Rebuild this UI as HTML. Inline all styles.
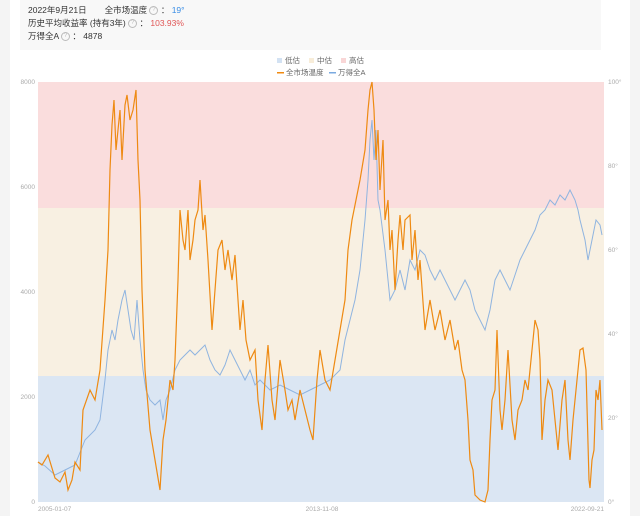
<!DOCTYPE html>
<html><head><meta charset="utf-8"><style>
body{margin:0;width:640px;height:516px;background:#f4f4f4;font-family:"Liberation Sans","Noto Sans CJK SC",sans-serif;overflow:hidden}
#p{position:absolute;left:10px;top:0;width:620px;height:516px;background:#fff}
#c{position:absolute;left:20px;top:0;width:581px;height:50px;background:#f8f8f8;font-size:8.5px;color:#333}
.r{position:absolute;left:8px}
.q{display:inline-block;width:7px;height:7px;border:1px solid #bbb;border-radius:50%;font-size:6px;line-height:7px;text-align:center;color:#bbb;vertical-align:middle}
</style></head><body>
<div id="p"></div>
<div id="c">
<div class="r" style="top:4px">2022年9月21日<span style="margin-left:18px">全市场温度 <span class="q">?</span> ： <span style="color:#3a8ee6">19°</span></span></div>
<div class="r" style="top:17px">历史平均收益率 (持有3年) <span class="q">?</span> ： <span style="color:#e05555">103.93%</span></div>
<div class="r" style="top:30px">万得全A <span class="q">?</span> ： 4878</div>
</div>
<svg style="position:absolute;left:0;top:0" width="640" height="516" font-family="Liberation Sans,Noto Sans CJK SC,sans-serif">
<rect x="38" y="82" width="566" height="126" fill="#fadddd"/>
<rect x="38" y="208" width="566" height="168" fill="#f8f0e2"/>
<rect x="38" y="376" width="566" height="126" fill="#dbe6f3"/>
<g font-size="6.5" fill="#aaa">
<text x="35" y="84" text-anchor="end">8000</text><text x="35" y="189" text-anchor="end">6000</text><text x="35" y="294" text-anchor="end">4000</text><text x="35" y="399" text-anchor="end">2000</text><text x="35" y="504" text-anchor="end">0</text>
<text x="608" y="84">100°</text><text x="608" y="168">80°</text><text x="608" y="252">60°</text><text x="608" y="336">40°</text><text x="608" y="420">20°</text><text x="608" y="504">0°</text>
<text x="38" y="511">2005-01-07</text><text x="322" y="511" text-anchor="middle">2013-11-08</text><text x="604" y="511" text-anchor="end">2022-09-21</text>
</g>
<g font-size="7.5" fill="#666">
<rect x="277" y="58" width="5" height="5" fill="#d3e2f3"/><text x="285" y="63">低估</text>
<rect x="309" y="58" width="5" height="5" fill="#f8edd9"/><text x="317" y="63">中估</text>
<rect x="341" y="58" width="5" height="5" fill="#f9d6d6"/><text x="349" y="63">高估</text>
<rect x="277" y="72" width="7" height="1.5" fill="#f08a10"/><text x="286" y="75">全市场温度</text>
<rect x="329" y="72" width="7" height="1.5" fill="#7aaae0"/><text x="338" y="75">万得全A</text>
</g>
<polyline fill="none" stroke="#8fb4e0" stroke-width="1" points="38,462 45,466 55,475 65,470 75,465 85,440 95,430 100,420 105,380 108,350 112,330 115,340 118,320 122,300 125,290 128,310 131,330 134,340 137,300 140,340 143,370 146,390 150,400 155,405 160,400 163,420 166,400 170,390 175,370 180,360 185,355 190,350 195,355 200,350 205,345 210,360 215,370 220,375 225,365 230,350 235,360 240,370 245,380 250,370 255,385 260,380 265,385 270,390 280,385 290,390 300,395 310,390 320,385 330,380 340,370 345,340 350,320 355,300 360,270 365,220 368,180 370,140 372,120 374,160 376,130 378,200 380,210 385,250 390,300 395,290 400,270 405,290 410,260 415,270 420,250 425,255 430,270 435,280 440,270 445,280 450,290 455,300 460,290 465,280 470,290 475,310 480,320 485,330 490,310 495,280 500,270 505,280 510,290 515,275 520,260 525,250 530,240 535,230 540,215 545,210 550,200 555,205 560,195 565,200 570,190 575,200 578,210 580,220 585,240 588,260 592,240 596,220 600,225 602,235"/>
<polyline fill="none" stroke="#ee8a12" stroke-width="1.2" points="38,462 42,465 48,455 55,478 60,482 65,472 68,490 72,480 75,462 80,470 83,410 90,390 95,400 100,370 105,300 108,250 110,170 112,125 114,100 116,150 118,130 120,110 122,160 125,105 127,95 130,120 133,110 136,90 138,160 140,200 142,290 145,370 150,430 155,460 160,490 163,440 166,420 170,380 173,390 175,360 178,280 180,210 183,240 185,250 188,210 190,260 193,240 195,220 198,210 200,180 203,230 205,215 208,260 212,330 215,290 218,250 222,240 225,270 228,250 232,280 235,255 238,300 240,330 243,300 246,340 250,360 255,350 258,400 262,430 265,380 268,345 272,400 275,420 280,360 285,390 288,410 292,400 295,420 300,390 305,410 310,430 313,440 317,380 320,350 325,380 330,390 335,360 340,330 345,300 348,250 352,220 356,200 360,180 365,150 368,110 370,90 372,82 374,110 376,160 378,130 380,190 383,140 385,220 388,200 390,250 392,230 395,290 398,240 400,215 403,250 405,220 410,215 412,260 415,230 418,280 420,260 425,330 430,300 435,330 440,310 445,340 450,320 455,350 458,340 462,370 465,380 468,420 470,460 473,470 475,495 480,500 485,502 488,490 490,440 492,400 495,390 497,330 500,410 502,430 505,400 508,350 512,420 515,440 518,410 522,400 525,380 528,390 532,350 535,320 538,330 540,360 542,440 545,400 548,380 552,390 555,420 558,450 562,400 565,380 568,440 570,460 573,420 575,400 578,370 580,350 583,348 586,370 589,480 590,488 592,460 594,450 596,390 598,400 600,380 602,430"/>
</svg>
</body></html>
